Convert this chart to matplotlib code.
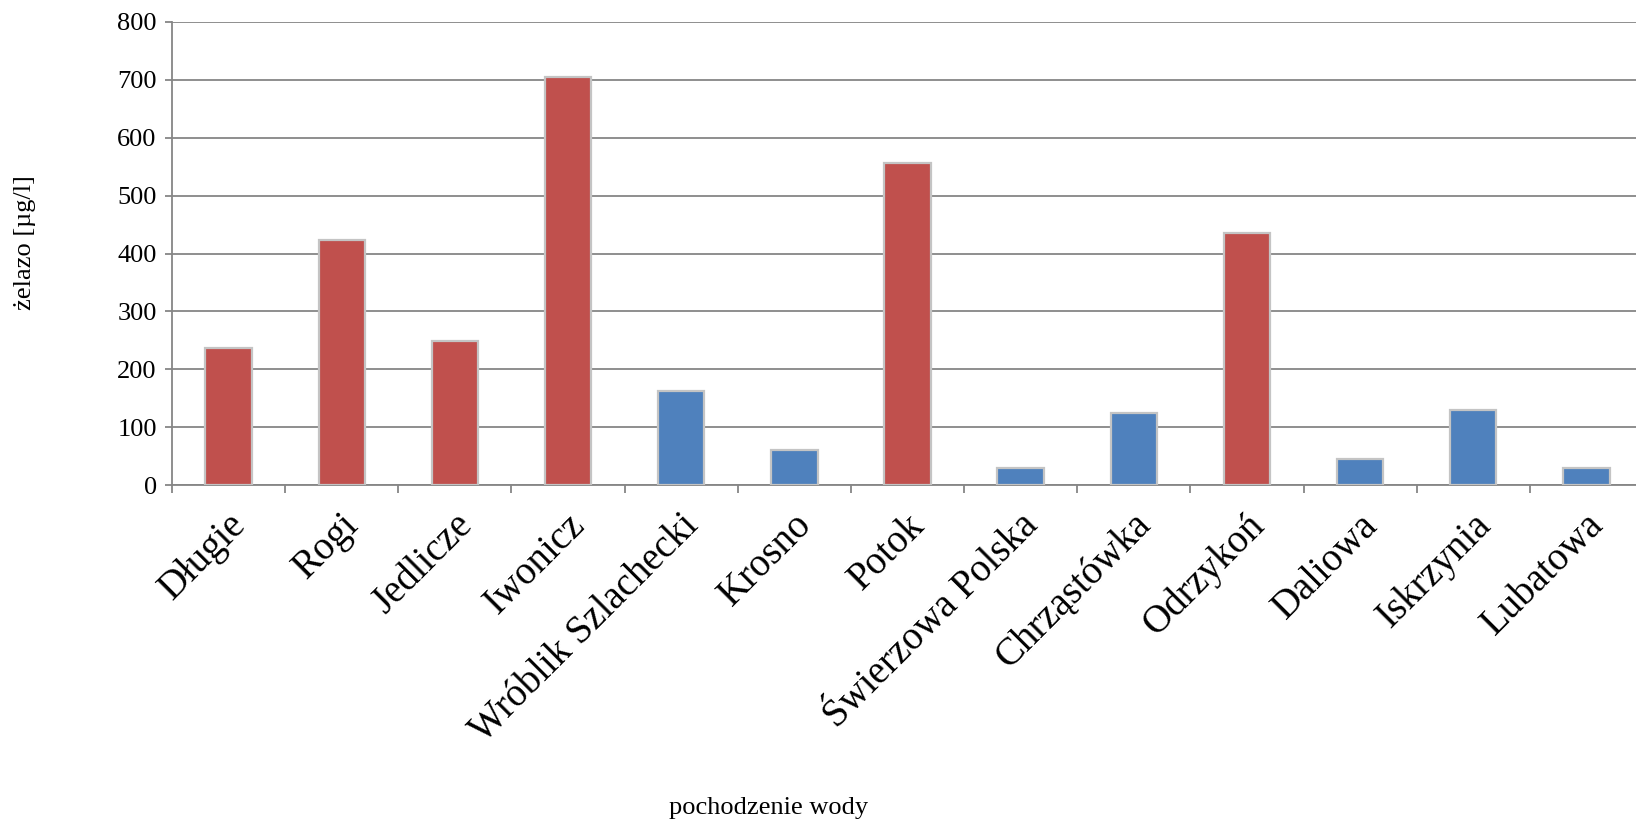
import numpy as np
import matplotlib
matplotlib.use("Agg")
import matplotlib.pyplot as plt
import matplotlib.transforms as mtransforms

# water origin and iron content
miejsca = ['Długie', 'Rogi', 'Jedlicze', 'Iwonicz', 'Wróblik Szlachecki', 'Krosno',
           'Potok', 'Świerzowa Polska', 'Chrząstówka', 'Odrzykoń', 'Daliowa',
           'Iskrzynia', 'Lubatowa']
zelazo = [237, 424, 249, 705, 163, 60, 557, 30, 125, 436, 45, 130, 30]
ponad_norme = [True, True, True, True, False, False, True, False, False, True,
               False, False, False]
y_ticks = [0, 100, 200, 300, 400, 500, 600, 700, 800]

red = '#C0504D'
blue = '#4F81BD'
grey = '#868686'

plt.rcParams['font.family'] = ['Liberation Serif', 'DejaVu Serif']

fig = plt.figure(figsize=(16.36, 8.19), dpi=100)
ax = fig.add_axes([172 / 1636, 1 - 485 / 819, 1471 / 1636, 463 / 819])

x = np.arange(len(miejsca))
colors = [red if p else blue for p in ponad_norme]
ax.bar(x, zelazo, width=0.41, color=colors, edgecolor='#C4C4C4', linewidth=1.6,
       zorder=3)

ax.set_xlim(-0.5, len(miejsca) - 0.5)
ax.set_ylim(0, 800)
ax.set_yticks(y_ticks)
ax.set_yticklabels([str(v) for v in y_ticks], fontsize=19)
ax.yaxis.grid(True, color=grey, lw=1.3, zorder=0)

# ticks between categories, labels at the centres
ax.set_xticks(np.arange(len(miejsca) + 1) - 0.5)
ax.set_xticklabels([])
ax.set_xticks(x, minor=True)
ax.set_xticklabels(miejsca, minor=True, rotation=45, ha='right', va='center',
                   rotation_mode='anchor', fontsize=28)
ax.tick_params(axis='x', which='minor', length=0, pad=25)
ax.tick_params(axis='x', which='major', length=6, width=1.3, color=grey, direction='out')
ax.tick_params(axis='y', length=5, width=1.3, color=grey, direction='out', pad=6)

shift = mtransforms.ScaledTranslation(12 / 100, 0, fig.dpi_scale_trans)
for lab in ax.get_xticklabels(minor=True):
    lab.set_transform(lab.get_transform() + shift)

for s in ['top', 'right']:
    ax.spines[s].set_visible(False)
for s in ['left', 'bottom']:
    ax.spines[s].set_color(grey)
    ax.spines[s].set_linewidth(1.3)

fig.text(769 / 1636, 1 - 808 / 819, 'pochodzenie wody', fontsize=19,
         ha='center', va='center')
fig.text(25 / 1636, 1 - 243 / 819, 'żelazo [µg/l]', fontsize=19, rotation=90,
         ha='center', va='center')

fig.savefig('out.png', dpi=100)
